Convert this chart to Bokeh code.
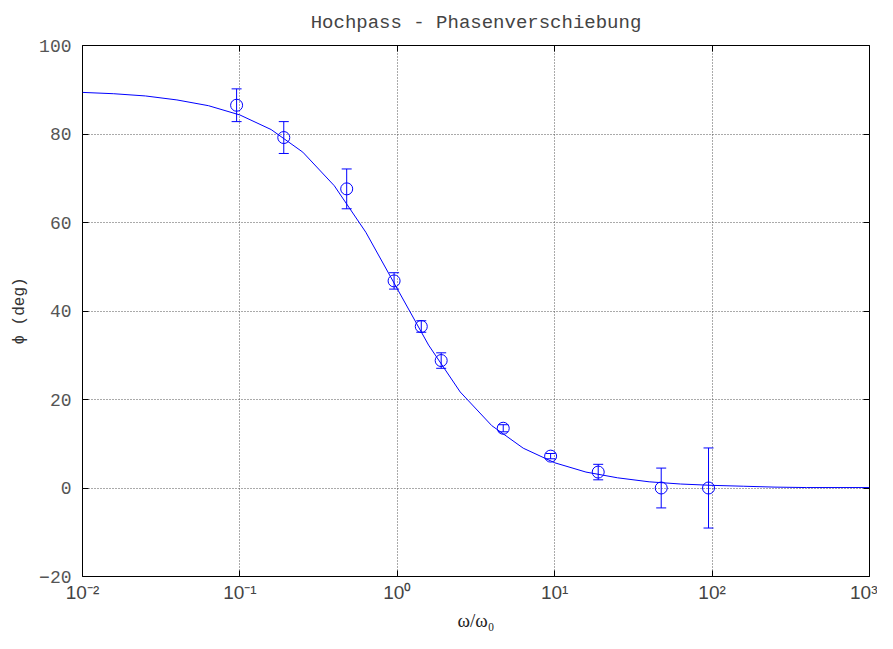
from bokeh.plotting import figure
from bokeh.models import (ColumnDataSource, Whisker, TeeHead, FixedTicker, Range1d,
                          LinearAxis, LogAxis)
from bokeh.embed import file_html
from bokeh.resources import INLINE

# Measured points (omega/omega0, phase in degrees, error)
omega = [0.0953, 0.190, 0.477, 0.954, 1.42, 1.90, 4.71, 9.42, 18.9, 47.5, 94.9]
phi = [86.5, 79.2, 67.6, 46.8, 36.5, 28.8, 13.5, 7.2, 3.6, 0.0, 0.0]
phi_err = [3.7, 3.6, 4.5, 1.85, 1.3, 1.75, 0.8, 0.6, 1.75, 4.5, 9.05]

# Theory curve as drawn (sample points)
curve_omega = [0.01, 0.0158, 0.0251, 0.0398, 0.0631, 0.1, 0.158, 0.251, 0.398, 0.631,
               1.0, 1.58, 2.51, 3.98, 6.31, 10.0, 15.8, 25.1, 39.8, 63.1,
               100.0, 158.0, 251.0, 398.0, 631.0, 1000.0]
curve_phi = [89.4, 89.1, 88.6, 87.7, 86.4, 84.3, 81.0, 75.9, 68.3, 57.8,
             45.0, 32.3, 21.7, 14.1, 9.0, 5.7, 3.6, 2.3, 1.4, 0.9,
             0.6, 0.4, 0.2, 0.1, 0.1, 0.1]

x_ticks = [0.01, 0.1, 1, 10, 100, 1000]
x_tick_labels = ["10\u207b\u00b2", "10\u207b\u00b9", "10\u2070", "10\u00b9", "10\u00b2", "10\u00b3"]
y_ticks = [-20, 0, 20, 40, 60, 80, 100]

BLUE = "#0000ff"
MONO = "Liberation Mono"

p = figure(width=877, height=633, x_axis_type="log",
           x_range=Range1d(0.01, 1000), y_range=Range1d(-20, 100),
           output_backend="svg", toolbar_location=None,
           min_border_left=82, min_border_right=8, min_border_top=45, min_border_bottom=53,
           title="Hochpass - Phasenverschiebung")

p.title.text_font = MONO
p.title.text_font_size = "19px"
p.title.text_font_style = "normal"
p.title.text_color = "#444444"
p.title.align = "center"
p.title.vertical_align = "top"
p.title.standoff = 20

p.outline_line_color = "black"
p.outline_line_width = 1
p.background_fill_color = "white"
p.border_fill_color = "white"

xa = p.xaxis[0]
xa.ticker = FixedTicker(ticks=x_ticks)
xa.major_label_overrides = dict(zip(x_ticks, x_tick_labels))
xa.major_label_text_font = "Liberation Sans"
xa.major_label_text_font_size = "19px"
xa.major_label_text_color = "#444444"
xa.major_label_standoff = 5
xa.axis_line_color = None
xa.major_tick_in = 6
xa.major_tick_out = 0
xa.major_tick_line_color = "black"
xa.minor_tick_line_color = None
xa.axis_label = "\u03c9/\u03c9\u2080"
xa.axis_label_text_font = "Liberation Serif"
xa.axis_label_text_font_size = "19px"
xa.axis_label_text_font_style = "normal"
xa.axis_label_text_color = "#222222"
xa.axis_label_standoff = 4

ya = p.yaxis[0]
ya.ticker = FixedTicker(ticks=y_ticks)
ya.major_label_text_font = MONO
ya.major_label_text_font_size = "18px"
ya.major_label_text_color = "#555555"
ya.major_label_standoff = 11
ya.axis_line_color = None
ya.major_tick_in = 6
ya.major_tick_out = 0
ya.major_tick_line_color = "black"
ya.minor_tick_line_color = None
ya.axis_label = "\u03d5 (deg)"
ya.axis_label_text_font = MONO
ya.axis_label_text_font_size = "16px"
ya.axis_label_text_font_style = "normal"
ya.axis_label_text_color = "#333333"
ya.axis_label_standoff = 7

# mirrored ticks on right and top (labels hidden)
ra = LinearAxis(ticker=FixedTicker(ticks=y_ticks), major_label_text_font_size="1px",
                major_label_text_alpha=0, major_label_standoff=0, axis_line_color=None,
                major_tick_in=6, major_tick_out=0, minor_tick_line_color=None)
p.add_layout(ra, "right")
ta = LogAxis(ticker=FixedTicker(ticks=x_ticks), major_label_text_font_size="1px",
             major_label_text_alpha=0, major_label_standoff=0, axis_line_color=None,
             major_tick_in=6, major_tick_out=0, minor_tick_line_color=None)
p.add_layout(ta, "above")

for g in (p.xgrid[0], p.ygrid[0]):
    g.grid_line_color = "#555555"
    g.grid_line_dash = "1 2"
    g.grid_line_width = 1

p.line(curve_omega, curve_phi, line_color=BLUE, line_width=1)

src = ColumnDataSource(dict(
    x=omega, y=phi,
    upper=[v + e for v, e in zip(phi, phi_err)],
    lower=[v - e for v, e in zip(phi, phi_err)],
))
w = Whisker(source=src, base="x", upper="upper", lower="lower", line_color=BLUE, line_width=1,
            upper_head=TeeHead(size=10, line_color=BLUE, line_width=1),
            lower_head=TeeHead(size=10, line_color=BLUE, line_width=1))
p.add_layout(w)
p.scatter("x", "y", source=src, marker="circle", size=12, fill_color=None,
          line_color=BLUE, line_width=1)

open("out.html", "w").write(file_html(p, INLINE))
